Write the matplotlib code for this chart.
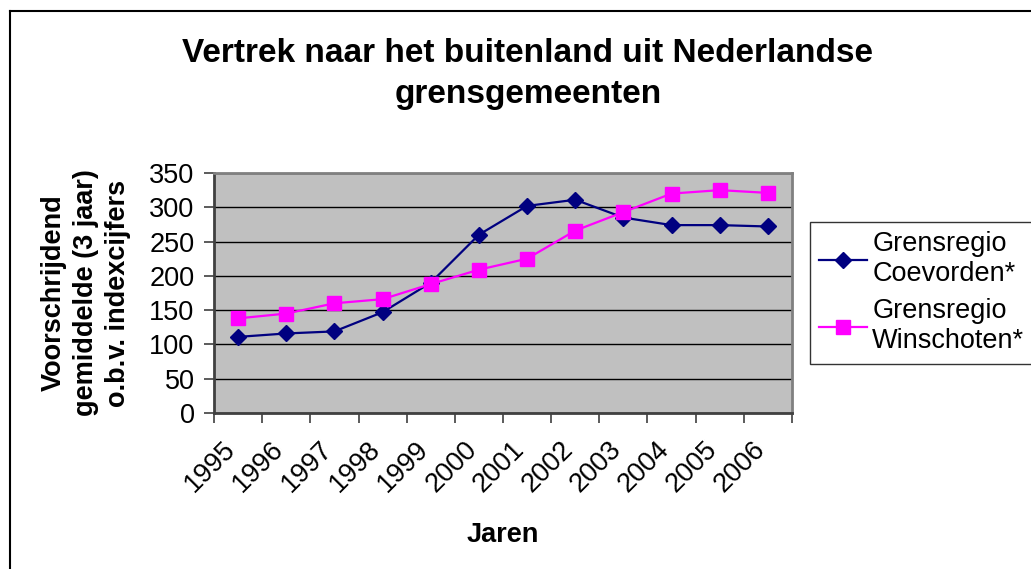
import numpy as np
import matplotlib
matplotlib.use('Agg')
import matplotlib.pyplot as plt
from matplotlib.lines import Line2D

years = ['1995', '1996', '1997', '1998', '1999', '2000',
         '2001', '2002', '2003', '2004', '2005', '2006']
coevorden = [111, 116, 119, 147, 190, 260, 302, 311, 285, 274, 274, 272]
winschoten = [138, 145, 160, 166, 188, 209, 225, 266, 293, 320, 325, 321]
yticks = [0, 50, 100, 150, 200, 250, 300, 350]

plt.rcParams['font.family'] = ['Liberation Sans', 'DejaVu Sans']

W, H = 1031, 569
fig = plt.figure(figsize=(W / 100, H / 100), dpi=100)
ax = fig.add_axes([214 / W, 1 - 413 / H, (792 - 214) / W, (413 - 173) / H])
ax.set_facecolor('#C0C0C0')

x = np.arange(len(years)) + 0.5
ax.plot(x, coevorden, color='#000080', lw=1.6, marker='D', ms=8.5,
        label='Grensregio\nCoevorden*', zorder=3)
ax.plot(x, winschoten, color='#FF00FF', lw=1.6, marker='s', ms=9.5,
        label='Grensregio\nWinschoten*', zorder=3)

ax.set_xlim(0, len(years))
ax.set_ylim(0, 350)
ax.set_yticks(yticks)
ax.yaxis.grid(True, color='black', lw=1.0)
ax.set_axisbelow(True)

# rotated years sit a little left of the category centre
ax.set_xticks(x - 0.32)
ax.set_xticklabels(years, rotation=45, ha='right', va='top',
                   rotation_mode='anchor', fontsize=19.5)
ax.set_xticks(np.arange(len(years) + 1), minor=True)
ax.tick_params(axis='x', which='major', length=0, pad=17)
ax.tick_params(axis='x', which='minor', length=7, width=1.2, color='#404040',
               direction='out')
ax.tick_params(axis='y', length=7, width=1.2, color='#404040', labelsize=19.5,
               pad=7)

for s in ['top', 'right']:
    ax.spines[s].set_color('#808080')
    ax.spines[s].set_linewidth(2)
for s in ['left', 'bottom']:
    ax.spines[s].set_color('#404040')
    ax.spines[s].set_linewidth(2)

fig.text(503 / W, 1 - 535 / H, 'Jaren', ha='center', va='center',
         fontsize=19.5, fontweight='bold')
fig.text(86 / W, 1 - 293 / H,
         'Voorschrijdend\ngemiddelde (3 jaar)\no.b.v. indexcijfers',
         ha='center', va='center', rotation=90, fontsize=19.5,
         fontweight='bold', linespacing=1.32)

fig.text(528 / W, 1 - 74 / H,
         'Vertrek naar het buitenland uit Nederlandse\ngrensgemeenten',
         ha='center', va='center', fontsize=24, fontweight='bold',
         linespacing=1.38)

leg = fig.legend(loc='upper left', bbox_to_anchor=(810 / W, 1 - 222 / H),
                 fontsize=19.5, frameon=True, fancybox=False, edgecolor='black',
                 handlelength=1.75, borderpad=0.35, labelspacing=0.4,
                 handletextpad=0.2, borderaxespad=0)
leg.get_frame().set_linewidth(1.0)

# outer chart border
fig.add_artist(Line2D([9.5 / W, 9.5 / W], [0, 1 - 10.5 / H],
                      transform=fig.transFigure, color='black', lw=1.5))
fig.add_artist(Line2D([9.5 / W, 1], [1 - 10.5 / H, 1 - 10.5 / H],
                      transform=fig.transFigure, color='black', lw=1.5))

fig.savefig('out.png', dpi=100)
